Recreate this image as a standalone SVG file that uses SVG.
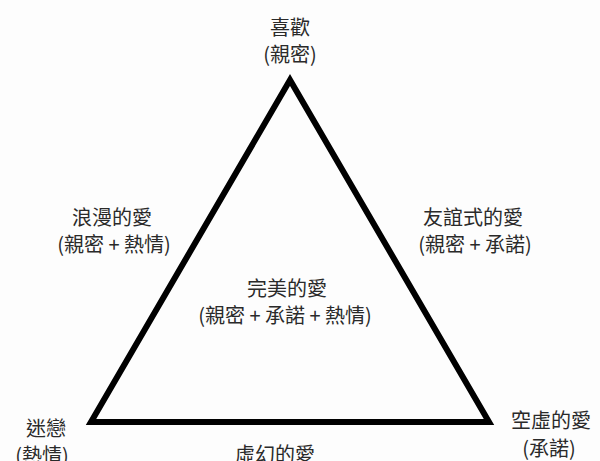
<svg xmlns="http://www.w3.org/2000/svg" width="600" height="461" viewBox="0 0 600 461">
<style>
text{font-family:"Noto Sans CJK TC","Noto Sans CJK SC",sans-serif;font-size:20px;fill:#2a2a2a;text-anchor:middle}
.edge{fill:none;stroke:#000;stroke-width:6;stroke-linejoin:miter}
</style>
<rect width="600" height="461" fill="#fdfdfd"/>
<g id="connectors">
<polygon class="edge" points="290,80 91,422 489,422"/>
</g>
<g id="top"><text x="290" y="35">喜歡</text><text x="290" y="62">(親密)</text></g>
<g id="left"><text x="112" y="225">浪漫的愛</text><text x="114" y="252">(親密 + 熱情)</text></g>
<g id="right"><text x="473" y="225">友誼式的愛</text><text x="475" y="252">(親密 + 承諾)</text></g>
<g id="center"><text x="287" y="296">完美的愛</text><text x="285" y="323">(親密 + 承諾 + 熱情)</text></g>
<g id="bottomleft"><text x="46" y="436">迷戀</text><text x="42" y="463">(熱情)</text></g>
<g id="bottomright"><text x="551" y="428">空虛的愛</text><text x="549" y="456">(承諾)</text></g>
<g id="bottom"><text x="275" y="462">虛幻的愛</text></g>
</svg>
